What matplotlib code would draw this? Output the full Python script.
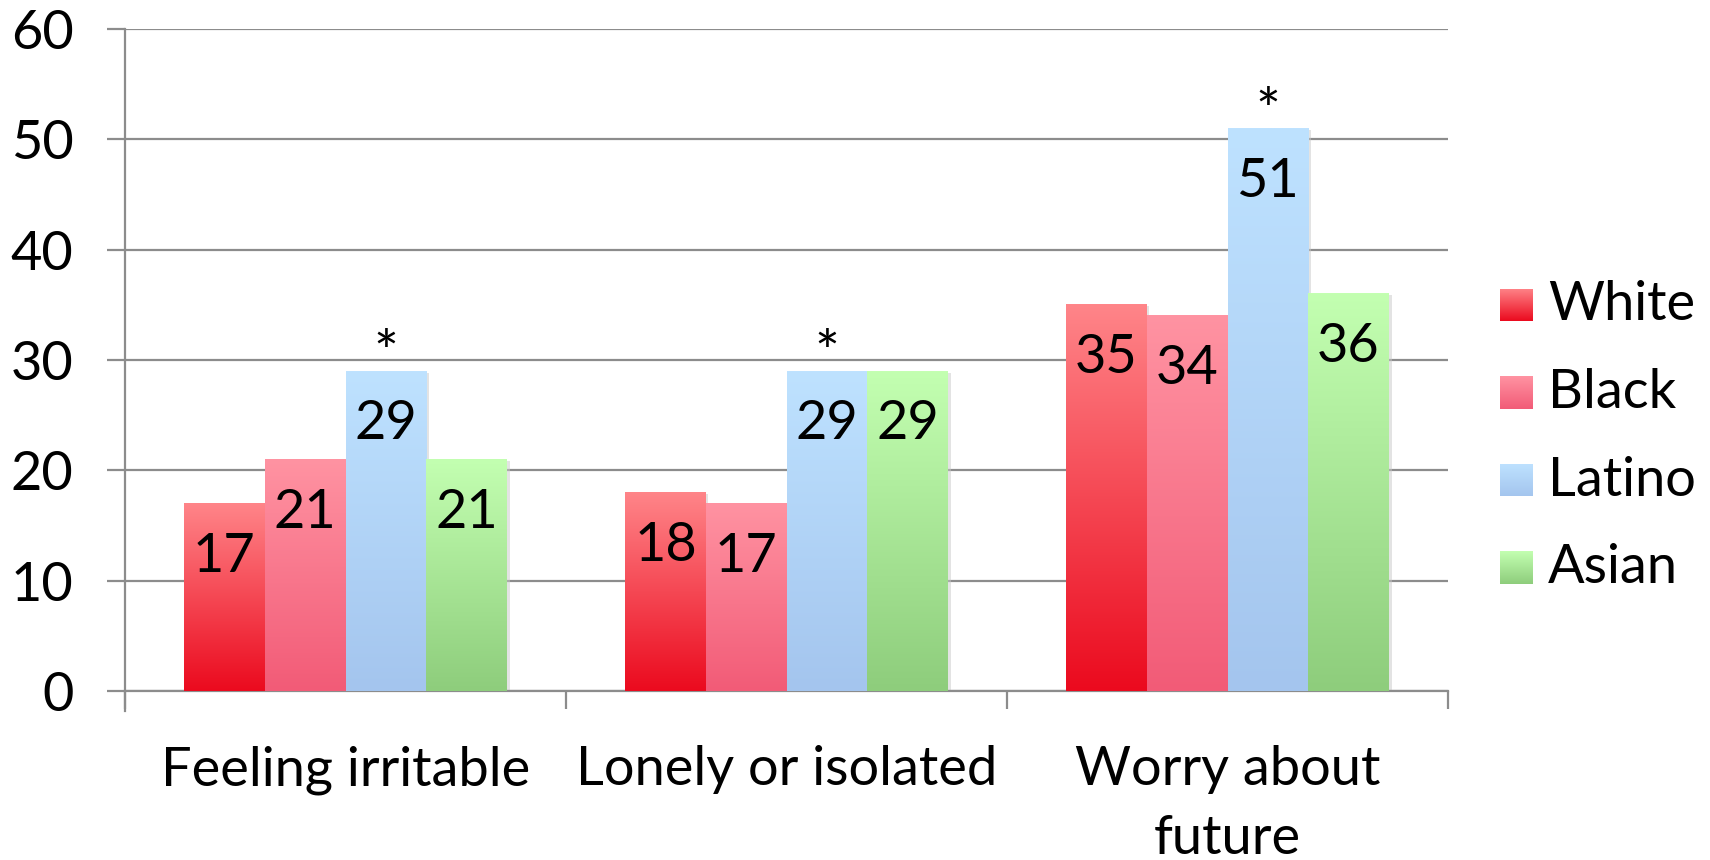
import matplotlib
matplotlib.use("Agg")
import matplotlib.pyplot as plt
import numpy as np
from matplotlib.colors import LinearSegmentedColormap

plt.rcParams['font.family'] = ['Lato', 'DejaVu Sans']

# Данные
categories = ["Feeling irritable", "Lonely or isolated", "Worry about\nfuture"]
groups = ["White", "Black", "Latino", "Asian"]
values = {
    "White": [17, 18, 35],
    "Black": [21, 17, 34],
    "Latino": [29, 29, 51],
    "Asian": [21, 29, 36],
}
significant = {"Latino": [True, True, True]}

# Градиенты: (верх, низ)
gradients = {
    "White": ("#ff8589", "#eb0a1e"),
    "Black": ("#ff93a2", "#f25b77"),
    "Latino": ("#bee2ff", "#a4c5ee"),
    "Asian": ("#c3ffb1", "#8ecd7c"),
}
grid_color = "#8c8c8c"
fs = 39

fig = plt.figure(figsize=(17.1, 8.6), dpi=100)
ax = fig.add_axes([0.0731, 0.1965, 0.7737, 0.7698])

x = np.arange(len(categories))
width = 0.183
grad = np.linspace(1, 0, 256).reshape(-1, 1)

for k, g in enumerate(groups):
    cmap = LinearSegmentedColormap.from_list(g, [gradients[g][1], gradients[g][0]])
    offs = (k - 1.5) * width
    bars = ax.bar(x + offs, values[g], width, color="none", edgecolor="none", zorder=3)
    for i, b in enumerate(bars):
        x0, h = b.get_x(), b.get_height()
        # лёгкая тень справа
        ax.add_patch(plt.Rectangle((x0 + 0.006, 0), width, h - 0.15, color="#c8c8c8",
                                   alpha=0.5, zorder=2.5, lw=0))
        ax.imshow(grad, extent=[x0, x0 + width, 0, h], aspect="auto", cmap=cmap,
                  vmin=0, vmax=1, zorder=3)
        ax.annotate(str(values[g][i]), (x0 + width / 2, h), xytext=(0, -38),
                    textcoords="offset points", ha="center", va="center",
                    fontsize=fs, zorder=5)
        if g in significant and significant[g][i]:
            ax.annotate("*", (x0 + width / 2, h), xytext=(0, 11),
                        textcoords="offset points", ha="center", va="center",
                        fontsize=42, zorder=5)

ax.set_xlim(-0.5, len(categories) - 0.5)
ax.set_ylim(0, 60)
ax.set_yticks(np.arange(0, 61, 10))
ax.yaxis.grid(True, color=grid_color, lw=1.6, zorder=1)
ax.set_axisbelow(True)

ax.set_xticks(x)
ax.set_xticklabels(categories, fontsize=fs, linespacing=1.5)
ax.set_xticks(np.arange(-0.5, len(categories), 1), minor=True)
ax.tick_params(axis="x", which="major", length=0, pad=39)
ax.tick_params(axis="x", which="minor", length=13, width=1.6, color=grid_color, direction="out")
ax.tick_params(axis="y", length=13, width=1.6, color=grid_color, labelsize=fs, pad=24)

for s in ["top", "right"]:
    ax.spines[s].set_visible(False)
for s in ["left", "bottom"]:
    ax.spines[s].set_color(grid_color)
    ax.spines[s].set_linewidth(1.6)
ax.spines["left"].set_bounds(-1.8, 60)
ax.spines["left"].set_zorder(1)

# Легенда с градиентными маркерами
sq_w, sq_h = 33 / 1710, 33 / 860
for k, g in enumerate(groups):
    cy = 1 - (305 + k * 87.5) / 860
    cax = fig.add_axes([1500 / 1710, cy - sq_h / 2, sq_w, sq_h])
    cmap = LinearSegmentedColormap.from_list(g, [gradients[g][1], gradients[g][0]])
    cax.imshow(grad, aspect="auto", cmap=cmap, vmin=0, vmax=1)
    cax.axis("off")
    fig.text(1548 / 1710, cy, g, fontsize=fs, va="center", ha="left")

fig.savefig("out.png", dpi=100)
